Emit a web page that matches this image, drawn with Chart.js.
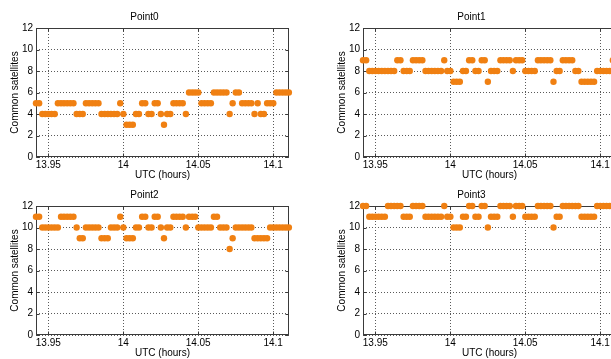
<!DOCTYPE html>
<html><head><meta charset="utf-8">
<script src="https://cdn.jsdelivr.net/npm/chart.js@4"></script>
<style>
html,body{margin:0;padding:0;background:#fff;overflow:hidden;width:611px;height:359px;position:relative;}
canvas.c{position:absolute;}
</style></head><body>
<canvas id="c0" class="c" style="left:0px;top:0px;width:300px;height:185px" width="300" height="185"></canvas>
<canvas id="c1" class="c" style="left:327px;top:0px;width:300px;height:185px" width="300" height="185"></canvas>
<canvas id="c2" class="c" style="left:0px;top:178px;width:300px;height:185px" width="300" height="185"></canvas>
<canvas id="c3" class="c" style="left:327px;top:178px;width:300px;height:185px" width="300" height="185"></canvas>
<script>
// sample times (UTC hours)
const times = [13.9418,13.9439,13.9460,13.9480,13.9501,13.9522,13.9543,13.9564,13.9585,13.9605,
13.9626,13.9647,13.9668,13.9689,13.9710,13.9730,13.9751,13.9772,13.9793,13.9814,
13.9835,13.9855,13.9876,13.9897,13.9918,13.9939,13.9960,13.9980,14.0001,14.0022,
14.0043,14.0064,14.0085,14.0105,14.0126,14.0147,14.0168,14.0189,14.0210,14.0230,
14.0251,14.0272,14.0293,14.0314,14.0335,14.0355,14.0376,14.0397,14.0418,14.0439,
14.0460,14.0480,14.0501,14.0522,14.0543,14.0564,14.0585,14.0605,14.0626,14.0647,
14.0668,14.0689,14.0710,14.0730,14.0751,14.0772,14.0793,14.0814,14.0835,14.0855,
14.0876,14.0897,14.0918,14.0939,14.0960,14.0980,14.1001,14.1022,14.1043,14.1064,
14.1085,14.1105];

const point0 = [5,5,4,4,4,4,4,5,5,5,5,5,5,4,4,4,5,5,5,5,5,4,4,4,4,4,4,5,4,3,3,3,4,4,5,5,4,4,5,5,4,3,4,4,5,5,5,5,4,6,6,6,6,5,5,5,5,6,6,6,6,6,4,5,6,6,5,5,5,5,4,5,4,4,5,5,5,6,6,6,6,6];
const point1 = [9,9,8,8,8,8,8,8,8,8,8,9,9,8,8,8,9,9,9,9,8,8,8,8,8,8,9,8,8,7,7,7,8,8,9,9,8,8,9,9,7,8,8,8,9,9,9,9,8,9,9,9,8,8,8,8,9,9,9,9,9,7,8,8,9,9,9,9,8,8,7,7,7,7,7,8,8,8,8,8,9,9];
const point2 = [11,11,10,10,10,10,10,10,11,11,11,11,11,10,9,9,10,10,10,10,10,9,9,9,10,10,10,11,10,9,9,9,10,10,11,11,10,10,11,11,10,9,10,10,11,11,11,11,10,11,11,11,10,10,10,10,10,11,11,10,10,10,8,9,10,10,10,10,10,10,9,9,9,9,9,10,10,10,10,10,10,10];
const point3 = [12,12,11,11,11,11,11,11,12,12,12,12,12,11,11,11,12,12,12,12,11,11,11,11,11,11,12,11,11,10,10,10,11,11,12,12,11,11,12,12,10,11,11,11,12,12,12,12,11,12,12,12,11,11,11,11,12,12,12,12,12,10,11,11,12,12,12,12,12,12,11,11,11,11,11,12,12,12,12,12,12,12];

const panelTitles = ['Point0','Point1','Point2','Point3'];
const xTickValues = [13.95, 14, 14.05, 14.1];
const yTickValues = [0, 2, 4, 6, 8, 10, 12];
const xLabel = 'UTC (hours)';
const yLabel = 'Common satellites';
const xMin = 13.9418, xMax = 14.1106;

const FONT = "'Liberation Sans', Arial, Helvetica, sans-serif";
const dotColor = '#F08012';

const framePlugin = {
  id: 'frame',
  beforeDatasetsDraw(chart) {
    const {ctx, chartArea: a, scales} = chart;
    const L = Math.round(a.left) + 0.5, R = Math.round(a.right) - 0.5;
    const T = Math.round(a.top) + 0.5, B = Math.round(a.bottom) - 0.5;
    ctx.save();
    ctx.strokeStyle = '#3a3a3a';
    ctx.lineWidth = 1;
    ctx.setLineDash([]);
    ctx.strokeRect(L, T, R - L, B - T);
    ctx.beginPath();
    const tl = 3;
    xTickValues.forEach(v => {
      const p = Math.round(scales.x.getPixelForValue(v)) + 0.5;
      ctx.moveTo(p, B); ctx.lineTo(p, B - tl);
      ctx.moveTo(p, T); ctx.lineTo(p, T + tl);
    });
    yTickValues.forEach(v => {
      const p = Math.round(scales.y.getPixelForValue(v)) + 0.5;
      ctx.moveTo(L, p); ctx.lineTo(L + tl, p);
      ctx.moveTo(R, p); ctx.lineTo(R - tl, p);
    });
    ctx.stroke();
    ctx.restore();
  }
};

function makeChart(id, title, values) {
  const data = times.map((t, i) => ({x: t, y: values[i]}));
  return new Chart(document.getElementById(id), {
    type: 'scatter',
    data: {datasets: [{
      data, backgroundColor: dotColor, borderColor: dotColor, borderWidth: 0,
      pointRadius: 3.2, pointHoverRadius: 3.2, clip: false
    }]},
    options: {
      responsive: false, animation: false, devicePixelRatio: 1,
      layout: {padding: {left: 0, top: 0, right: 11, bottom: 4}},
      plugins: {
        legend: {display: false},
        tooltip: {enabled: false},
        title: {display: true, text: title, color: '#000',
          font: {family: FONT, size: 10, weight: 'normal'},
          padding: {top: 11, bottom: 5}}
      },
      scales: {
        x: {
          type: 'linear', min: xMin, max: xMax,
          afterBuildTicks: s => { s.ticks = xTickValues.map(v => ({value: v})); },
          afterFit: s => { s.height = 24; },
          ticks: {color: '#000', font: {family: FONT, size: 10}, padding: 2,
            maxRotation: 0, autoSkip: false, callback: v => String(v)},
          grid: {color: '#5a5a5a', lineWidth: 1, drawTicks: false},
          border: {display: false, dash: [1, 2]},
          title: {display: true, text: xLabel, color: '#000',
            font: {family: FONT, size: 10}, padding: {top: 0, bottom: 0}}
        },
        y: {
          type: 'linear', min: 0, max: 12,
          afterBuildTicks: s => { s.ticks = yTickValues.map(v => ({value: v})); },
          afterFit: s => { s.width = 36; },
          ticks: {color: '#000', font: {family: FONT, size: 10}, padding: 3,
            autoSkip: false, callback: v => String(v)},
          grid: {color: '#5a5a5a', lineWidth: 1, drawTicks: false},
          border: {display: false, dash: [1, 2]},
          title: {display: true, text: yLabel, color: '#000',
            font: {family: FONT, size: 10}, padding: {top: 9, bottom: 0}}
        }
      }
    },
    plugins: [framePlugin]
  });
}

makeChart('c0', panelTitles[0], point0);
makeChart('c1', panelTitles[1], point1);
makeChart('c2', panelTitles[2], point2);
makeChart('c3', panelTitles[3], point3);
</script>
</body></html>
